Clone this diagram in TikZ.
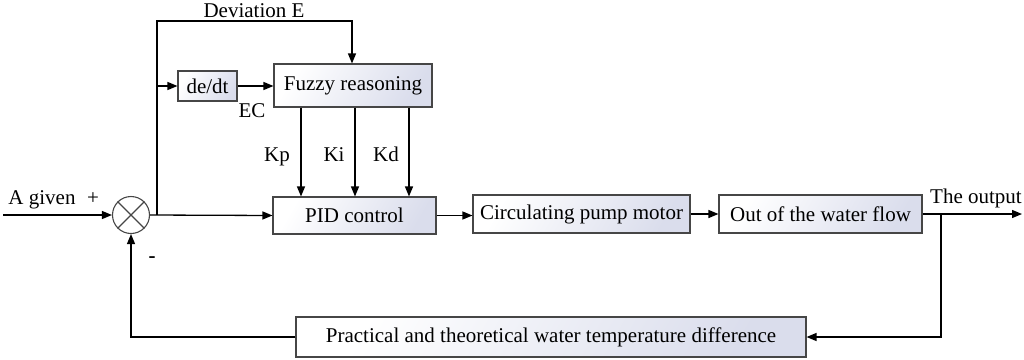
\documentclass[tikz,border=0pt]{standalone}
\usepackage{fontspec}
\setmainfont{Liberation Serif}
\usetikzlibrary{arrows.meta}
\definecolor{boxend}{RGB}{218,221,236}
\definecolor{boxline}{RGB}{70,70,70}
\tikzset{
  blk/.style={draw=boxline, line width=1.1pt, shading=axis, left color=white, right color=boxend, shading angle=60, minimum height=38pt, inner sep=0pt, font=\fontsize{21}{25}\selectfont},
  conn/.style={line width=1.3pt, -{Triangle[length=10pt,width=8pt]}},
  lbl/.style={inner sep=0pt, anchor=base, font=\fontsize{21}{25}\selectfont},
}
\begin{document}
\begin{tikzpicture}[x=1pt, y=-1pt]
\useasboundingbox (0,0) rectangle (1024,359);
% blocks
\node[blk, minimum width=59pt, minimum height=30pt] (dedt) at (207.5,86) {de/dt};
\node[blk, minimum width=158pt, minimum height=43pt] (fuzzy) at (353,85.5) {Fuzzy reasoning};
\node[blk, minimum width=163pt, minimum height=37pt] (pid) at (354.5,215.5) {PID control};
\node[blk, minimum width=217pt] (pump) at (581.5,214) {Circulating pump motor};
\node[blk, minimum width=203pt] (out) at (820.5,214) {Out of the water flow};
\node[blk, minimum width=510pt, minimum height=40pt] (fb) at (551,337) {Practical and theoretical water temperature difference};
% summing junction
\node[draw=boxline, line width=1.1pt, circle, minimum size=37pt, inner sep=0pt] (sum) at (131,215) {};
\draw[line width=1.1pt, boxline] (sum.north west) -- (sum.south east) (sum.north east) -- (sum.south west);
% coordinates
\coordinate (in) at (3,215);
\coordinate (b1) at (157,215);
\coordinate (top1) at (157,21);
\coordinate (top2) at (352,21);
\coordinate (b2) at (157,86);
\coordinate (b3) at (941,214);
\coordinate (outend) at (1022,214);
\coordinate (fbr) at (941,337);
\coordinate (fbl) at (131,337);
% connectors
\draw[conn] (in) -- (sum.west);
\draw[conn] (sum.east) -- (pid.west);
\draw[conn] (b1) -- (top1) -- (top2) -- (fuzzy.north -| top2);
\draw[conn] (b2) -- (dedt.west);
\draw[conn] (dedt.east) -- (fuzzy.west |- dedt.east);
\draw[conn] (fuzzy.south -| 301,0) -- (pid.north -| 301,0);
\draw[conn] (fuzzy.south -| 355,0) -- (pid.north -| 355,0);
\draw[conn] (fuzzy.south -| 409,0) -- (pid.north -| 409,0);
\draw[conn] (pid.east) -- (pump.west |- pid.east);
\draw[conn] (pump.east) -- (out.west);
\draw[conn] (out.east) -- (outend);
\draw[conn] (b3) -- (fbr) -- (fb.east);
\draw[conn] (fb.west) -- (fbl) -- (sum.south);
% labels
\node[lbl] (tdev) at (254,17) {Deviation E};
\node[lbl] (tec) at (252,117) {EC};
\node[lbl] (tkp) at (277,161) {Kp};
\node[lbl] (tki) at (334,161) {Ki};
\node[lbl] (tkd) at (386,161) {Kd};
\node[lbl] (tgiven) at (42,204) {A given};
\node[lbl] (tplus) at (93,204) {+};
\node[lbl] (tminus) at (152,262) {\textbf{-}};
\node[lbl] (tout) at (976,203) {The output};
\end{tikzpicture}
\end{document}
